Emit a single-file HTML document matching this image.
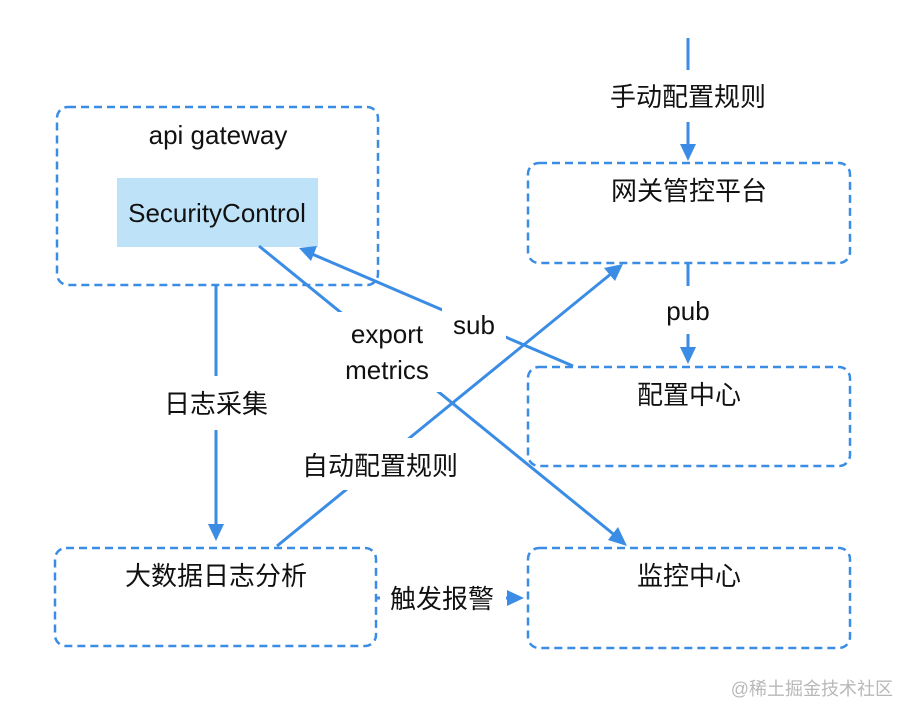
<!DOCTYPE html>
<html><head><meta charset="utf-8"><style>
html,body{margin:0;padding:0;background:#fff;width:914px;height:718px;overflow:hidden}
svg text{font-family:"Liberation Sans","Noto Sans CJK SC",sans-serif;fill:#111}
</style></head><body>
<svg width="914" height="718" viewBox="0 0 914 718" xmlns="http://www.w3.org/2000/svg">
<g fill="none" stroke="#3a8ce4" stroke-width="2.5" stroke-dasharray="8 5">
<rect x="57" y="107" width="321" height="178" rx="11"/>
<rect x="528" y="163" width="322" height="100" rx="11"/>
<rect x="528" y="367" width="322" height="99" rx="11"/>
<rect x="55" y="548" width="321" height="98" rx="11"/>
<rect x="528" y="548" width="322" height="100" rx="11"/>
</g>
<rect x="117" y="178" width="201" height="69" fill="#bee3f8"/>
<g stroke="#3a8ce4" stroke-width="3" fill="none">
<line x1="688" y1="38" x2="688" y2="148"/>
<line x1="688" y1="263" x2="688" y2="350"/>
<line x1="216" y1="286" x2="216" y2="528"/>
<line x1="376" y1="598" x2="510" y2="598"/>
<line x1="277" y1="546" x2="612" y2="273"/>
<line x1="259" y1="246" x2="617" y2="537"/>
<line x1="573" y1="366" x2="312" y2="254"/>
</g>
<g fill="#3a8ce4">
<polygon points="688,161 680,144 696,144"/>
<polygon points="688,364 680,347 696,347"/>
<polygon points="216,541 208,524 224,524"/>
<polygon points="524,598 507,590 507,606"/>
<polygon points="623,264 615,281 604,268"/>
<polygon points="627,546 608,540 618,527"/>
<polygon points="299,248 317,246 311,261"/>
</g>
<g fill="#fff">
<rect x="600" y="70" width="176" height="52"/>
<rect x="656" y="286" width="64" height="48"/>
<rect x="156" y="376" width="120" height="54"/>
<rect x="380" y="576" width="126" height="44"/>
<rect x="292" y="438" width="172" height="52"/>
<rect x="330" y="312" width="112" height="80"/>
<rect x="442" y="304" width="64" height="44"/>
</g>
<g font-size="26" text-anchor="middle">
<text x="218" y="144">api gateway</text>
<text x="217" y="222">SecurityControl</text>
<text x="688" y="106">手动配置规则</text>
<text x="689" y="200">网关管控平台</text>
<text x="688" y="320">pub</text>
<text x="689" y="404">配置中心</text>
<text x="216" y="413">日志采集</text>
<text x="387" y="343">export</text>
<text x="387" y="379">metrics</text>
<text x="474" y="334">sub</text>
<text x="380" y="475">自动配置规则</text>
<text x="216" y="585">大数据日志分析</text>
<text x="442" y="608">触发报警</text>
<text x="689" y="585">监控中心</text>
</g>
<text x="893" y="695" font-size="18" text-anchor="end" style="fill:#b8b8b8">@稀土掘金技术社区</text>
</svg>
</body></html>
